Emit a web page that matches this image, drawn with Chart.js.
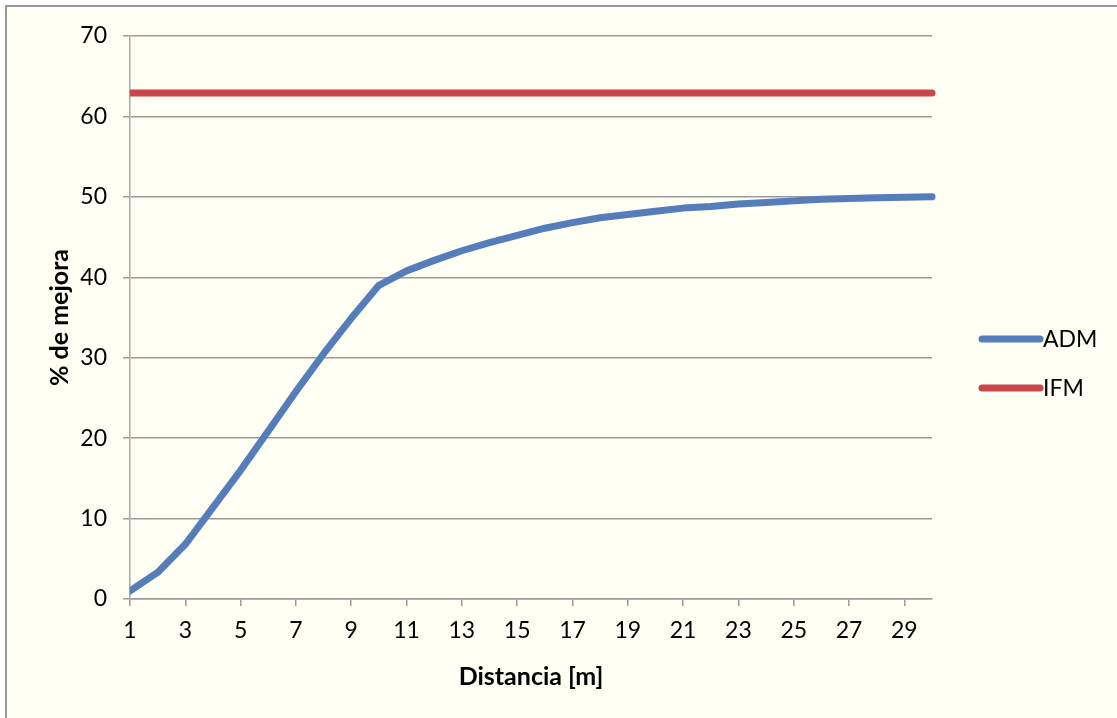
<!DOCTYPE html>
<html>
<head>
<meta charset="utf-8">
<style>
  html, body { margin: 0; padding: 0; background: #ffffff; }
  #wrap { width: 1117px; height: 718px; position: relative; }
</style>
<script src="https://cdn.jsdelivr.net/npm/chart.js@4.4.1/dist/chart.umd.min.js"></script>
</head>
<body>
<div id="wrap"><canvas id="chart" width="1117" height="718"></canvas></div>
<script>
// Distance in metres (x categories)
const distancias = [1, 2, 3, 4, 5, 6, 7, 8, 9, 10, 11, 12, 13, 14, 15,
                    16, 17, 18, 19, 20, 21, 22, 23, 24, 25, 26, 27, 28, 29, 30];

// Improvement (%) per distance
const adm = [1.0, 3.3, 6.8, 11.4, 16.0, 20.9, 25.8, 30.5, 34.9, 39.0,
             40.8, 42.1, 43.3, 44.3, 45.2, 46.1, 46.8, 47.4, 47.8, 48.2,
             48.6, 48.8, 49.1, 49.3, 49.5, 49.7, 49.8, 49.9, 49.95, 50.0];
const ifm = [62.9, 62.9, 62.9, 62.9, 62.9, 62.9, 62.9, 62.9, 62.9, 62.9,
             62.9, 62.9, 62.9, 62.9, 62.9, 62.9, 62.9, 62.9, 62.9, 62.9,
             62.9, 62.9, 62.9, 62.9, 62.9, 62.9, 62.9, 62.9, 62.9, 62.9];

const serieNombres = ['ADM', 'IFM'];
const ejeX = 'Distancia [m]';
const ejeY = '% de mejora';

const FONT = 'Lato, "Open Sans", "DejaVu Sans", sans-serif';
const AXIS_GRAY = '#9b9b9b';

Chart.defaults.color = '#000000';
Chart.defaults.font.family = FONT;

// Cream panel with a thin gray frame on the top and left edges
const panel = {
  id: 'panel',
  beforeDraw(chart) {
    const ctx = chart.ctx;
    ctx.save();
    ctx.fillStyle = '#ffffff';
    ctx.fillRect(0, 0, chart.width, chart.height);
    ctx.fillStyle = '#fffff3';
    ctx.fillRect(6, 6, chart.width - 6, chart.height - 6);
    ctx.strokeStyle = '#999999';
    ctx.lineWidth = 2;
    ctx.beginPath();
    ctx.moveTo(6, chart.height);
    ctx.lineTo(6, 6);
    ctx.lineTo(chart.width, 6);
    ctx.stroke();
    ctx.restore();
  }
};

// Legend on the right: line sample followed by the series name
const sideLegend = {
  id: 'sideLegend',
  afterDraw(chart) {
    const ctx = chart.ctx;
    const x0 = chart.chartArea.right + 50;
    const len = 58;
    const rows = [339, 388];
    ctx.save();
    chart.data.datasets.forEach((ds, i) => {
      const y = rows[i];
      ctx.strokeStyle = ds.borderColor;
      ctx.lineWidth = 7;
      ctx.lineCap = 'round';
      ctx.beginPath();
      ctx.moveTo(x0, y);
      ctx.lineTo(x0 + len, y);
      ctx.stroke();
      ctx.fillStyle = '#000000';
      ctx.font = '23px ' + FONT;
      ctx.textBaseline = 'middle';
      ctx.textAlign = 'left';
      ctx.fillText(ds.label, x0 + len + 3, y + 1);
    });
    ctx.restore();
  }
};

new Chart(document.getElementById('chart'), {
  type: 'line',
  data: {
    labels: distancias,
    datasets: [
      {
        label: serieNombres[0],
        data: adm,
        borderColor: '#557dba',
        backgroundColor: '#557dba',
        borderWidth: 7,
        borderCapStyle: 'round',
        borderJoinStyle: 'round',
        pointRadius: 0,
        pointHoverRadius: 0,
        tension: 0,
        clip: { left: 0, right: 5, top: 5, bottom: 5 }
      },
      {
        label: serieNombres[1],
        data: ifm,
        borderColor: '#c9464a',
        backgroundColor: '#c9464a',
        borderWidth: 7,
        borderCapStyle: 'round',
        borderJoinStyle: 'round',
        pointRadius: 0,
        pointHoverRadius: 0,
        tension: 0,
        clip: { left: 0, right: 5, top: 5, bottom: 5 }
      }
    ]
  },
  options: {
    responsive: false,
    animation: false,
    events: [],
    layout: { padding: { top: 36, right: 185, bottom: 0, left: 0 } },
    plugins: {
      legend: { display: false },
      tooltip: { enabled: false }
    },
    scales: {
      x: {
        type: 'category',
        offset: false,
        grid: {
          display: true,
          drawOnChartArea: false,
          drawTicks: true,
          tickLength: 7,
          color: AXIS_GRAY,
          lineWidth: 1.5
        },
        border: { display: true, color: AXIS_GRAY, width: 1.5 },
        ticks: {
          autoSkip: false,
          maxRotation: 0,
          padding: 11,
          font: { size: 23 },
          color: '#000000',
          callback(value, index) {
            return index % 2 === 0 ? this.getLabelForValue(value) : null;
          }
        },
        title: {
          display: true,
          text: ejeX,
          font: { size: 25, weight: 'bold' },
          color: '#000000',
          padding: { top: 0, bottom: 26 }
        },
        afterFit(scale) { scale.height = 119; }
      },
      y: {
        min: 0,
        max: 70,
        ticks: {
          stepSize: 10,
          padding: 16,
          font: { size: 23 },
          color: '#000000'
        },
        grid: {
          color: AXIS_GRAY,
          lineWidth: 1.5,
          drawTicks: true,
          tickLength: 7
        },
        border: { display: true, color: '#a8a8a8', width: 1.5 },
        title: {
          display: true,
          text: ejeY,
          font: { size: 25, weight: 'bold' },
          color: '#000000',
          padding: { top: 45, bottom: 0 }
        },
        afterFit(scale) { scale.width = 130; }
      }
    }
  },
  plugins: [panel, sideLegend]
});
</script>
</body>
</html>
